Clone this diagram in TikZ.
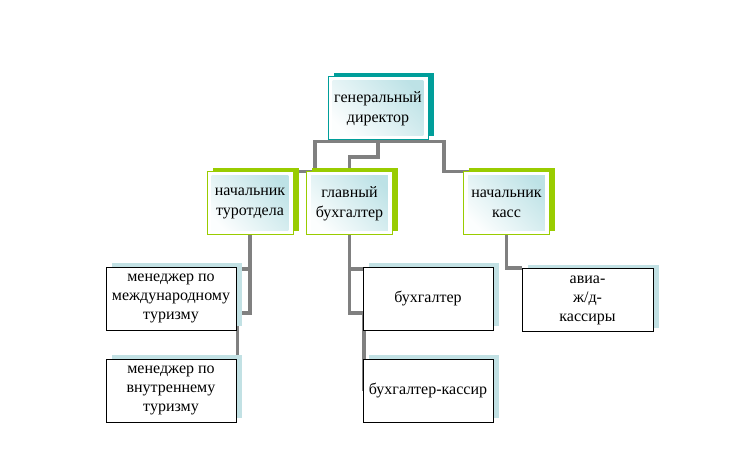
\documentclass[tikz,border=0pt]{standalone}
\usepackage{fontspec}
\setmainfont{Liberation Serif}
\usetikzlibrary{shadows,backgrounds}
\definecolor{tealb}{HTML}{009E9A}
\definecolor{greenb}{HTML}{99CC00}
\definecolor{lblue}{HTML}{C2E1E4}
\definecolor{gfill}{HTML}{BDE2E6}
\definecolor{conncol}{HTML}{808080}
\begin{document}
\begin{tikzpicture}[x=0.75pt,y=-0.75pt,
  font=\fontsize{12}{15}\selectfont,
  basebox/.style={align=center, inner sep=1pt, minimum height=47.25pt, line width=0.75pt},
  gradfill/.style={fill=white, path picture={
    \shade[top color=gfill, bottom color=white!96!gfill, shading angle=-45]
      ([shift={(3.5pt,-3pt)}]path picture bounding box.north west) rectangle
      ([shift={(-3.5pt,3pt)}]path picture bounding box.south east);}},
  gdbox/.style={basebox, draw=tealb, gradfill,
    minimum width=75pt,
    general shadow={fill=tealb, shadow xshift=4.2pt, shadow yshift=3pt}},
  midbox/.style={basebox, draw=greenb, gradfill,
    minimum width=64.5pt,
    general shadow={fill=greenb, shadow xshift=4.2pt, shadow yshift=3pt}},
  lowbox/.style={basebox, draw=black, fill=white, minimum width=97.5pt,
    font=\fontsize{12}{14.25}\selectfont,
    general shadow={fill=lblue, shadow xshift=4.2pt, shadow yshift=3pt}},
  conn/.style={draw=conncol, line width=2.3pt}
]
\useasboundingbox (0,0) rectangle (756,463);

\node[gdbox] (gd) at (378,108.5) {генеральный\\директор};
\node[midbox] (tur) at (250,203.5) {начальник\\туротдела};
\node[midbox] (gb) at (349.5,203.5) {главный\\бухгалтер};
\node[midbox] (nk) at (506.5,203.5) {начальник\\касс};
\node[lowbox] (m1) at (171,298.5) {менеджер по\\международному\\туризму};
\node[lowbox] (m2) at (171,390.5) {менеджер по\\внутреннему\\туризму};
\node[lowbox] (b1) at (428,298.5) {бухгалтер};
\node[lowbox] (b2) at (428,390.5) {бухгалтер-кассир};
\node[lowbox, minimum width=98.25pt] (ak) at (587.5,300) {авиа-\\ж/д-\\кассиры};

\coordinate (j1) at (315,141.5);
\coordinate (j2) at (378,157);
\coordinate (j3) at (444,141.5);
\coordinate (k1) at (250,269);
\coordinate (k2) at (237.5,313);
\coordinate (l1) at (350,269);
\coordinate (l2) at (364,313);
\coordinate (n1) at (508,268);

\begin{scope}[on background layer]
\draw[conn] (gd.south) |- (j1) |- (tur.north);
\draw[conn] (gd.south) -- (j2) -| (gb.north);
\draw[conn] (gd.south) |- (j3) |- (nk.north);
\draw[conn] (tur.south) |- (k1) -- (k1 -| m1.east);
\draw[conn] (tur.south) |- (k2) -- (k2 |- m2.center);
\draw[conn] (gb.south) |- (l1) -- (l1 -| b1.west);
\draw[conn] (gb.south) |- (l2) -- (l2 |- b2.center);
\draw[conn] (nk.south) |- (n1) -- (n1 -| ak.west);
\end{scope}
\end{tikzpicture}
\end{document}
